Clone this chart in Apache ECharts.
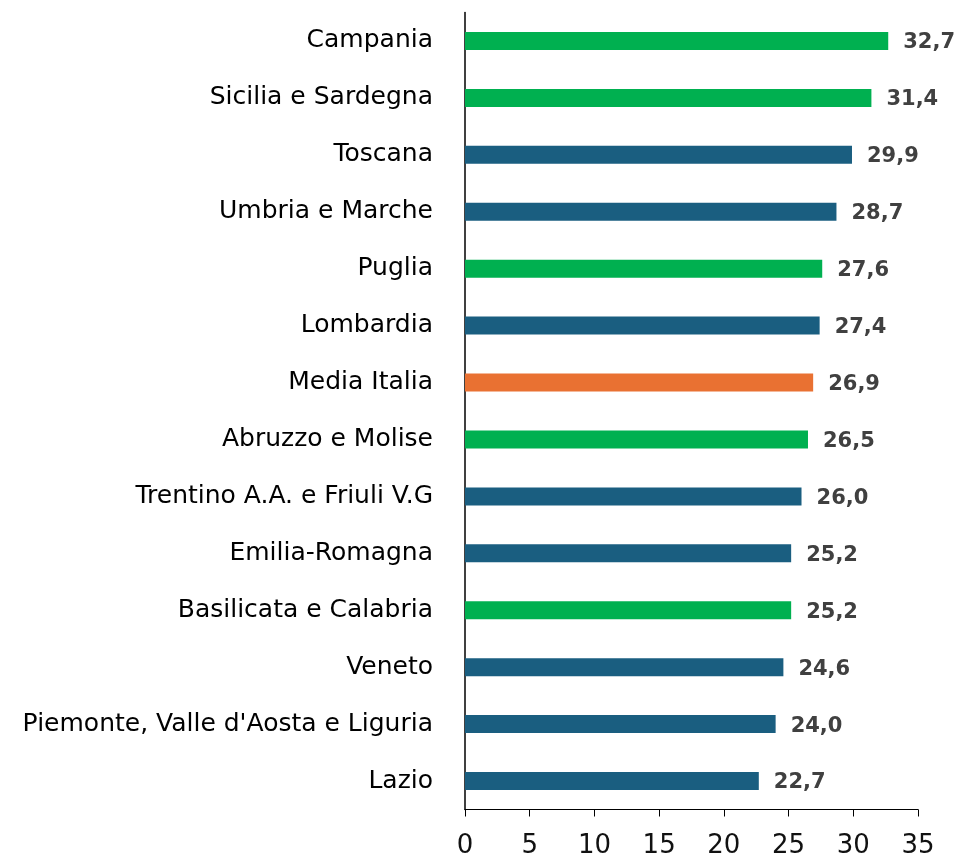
<!DOCTYPE html>
<html>
<head>
<meta charset="utf-8">
<script src="https://cdn.jsdelivr.net/npm/echarts@6/dist/echarts.min.js"></script>
<style>html,body{margin:0;padding:0;background:#fff}#c{width:958px;height:858px}</style>
</head>
<body>
<div id="c"></div>
<script>
const categories = ["Campania","Sicilia e Sardegna","Toscana","Umbria e Marche","Puglia","Lombardia","Media Italia","Abruzzo e Molise","Trentino A.A. e Friuli V.G","Emilia-Romagna","Basilicata e Calabria","Veneto","Piemonte, Valle d'Aosta e Liguria","Lazio"];
const values = [32.7,31.4,29.9,28.7,27.6,27.4,26.9,26.5,26.0,25.2,25.2,24.6,24.0,22.7];
const groups = ["s","s","n","n","s","n","m","s","n","n","s","n","n","n"];
const xTicks = {min:0,max:35,interval:5};
const colorMap = {s:"#00B050", n:"#1A5E80", m:"#E97132"};
const FONT = "DejaVu Sans";

const chart = echarts.init(document.getElementById('c'));
chart.setOption({
  animation:false,
  grid:{left:465,right:40,top:12.5,bottom:48.5,containLabel:false,outerBoundsMode:'none'},
  xAxis:{type:'value',min:xTicks.min,max:xTicks.max,interval:xTicks.interval,
    axisLine:{show:true,lineStyle:{color:'#000',width:1}},
    axisTick:{show:true,length:7,lineStyle:{color:'#000'}},
    splitLine:{show:false},
    axisLabel:{color:'#111',fontSize:26,fontFamily:FONT,margin:24}},
  yAxis:{type:'category',inverse:true,data:categories,
    axisLine:{show:true,lineStyle:{color:'#000',width:1.5}},
    axisTick:{show:false},
    axisLabel:{color:'#000',fontSize:25,fontFamily:FONT,margin:32}},
  series:[{type:'bar',barWidth:18,
    data:values.map((v,i)=>({value:v,itemStyle:{color:colorMap[groups[i]]}})),
    label:{show:true,position:'right',distance:15,offset:[0,2],color:'#404040',fontSize:21,fontWeight:900,fontFamily:FONT,
      formatter:p=>p.value.toFixed(1).replace('.',',')}}]
});
</script>
</body>
</html>
